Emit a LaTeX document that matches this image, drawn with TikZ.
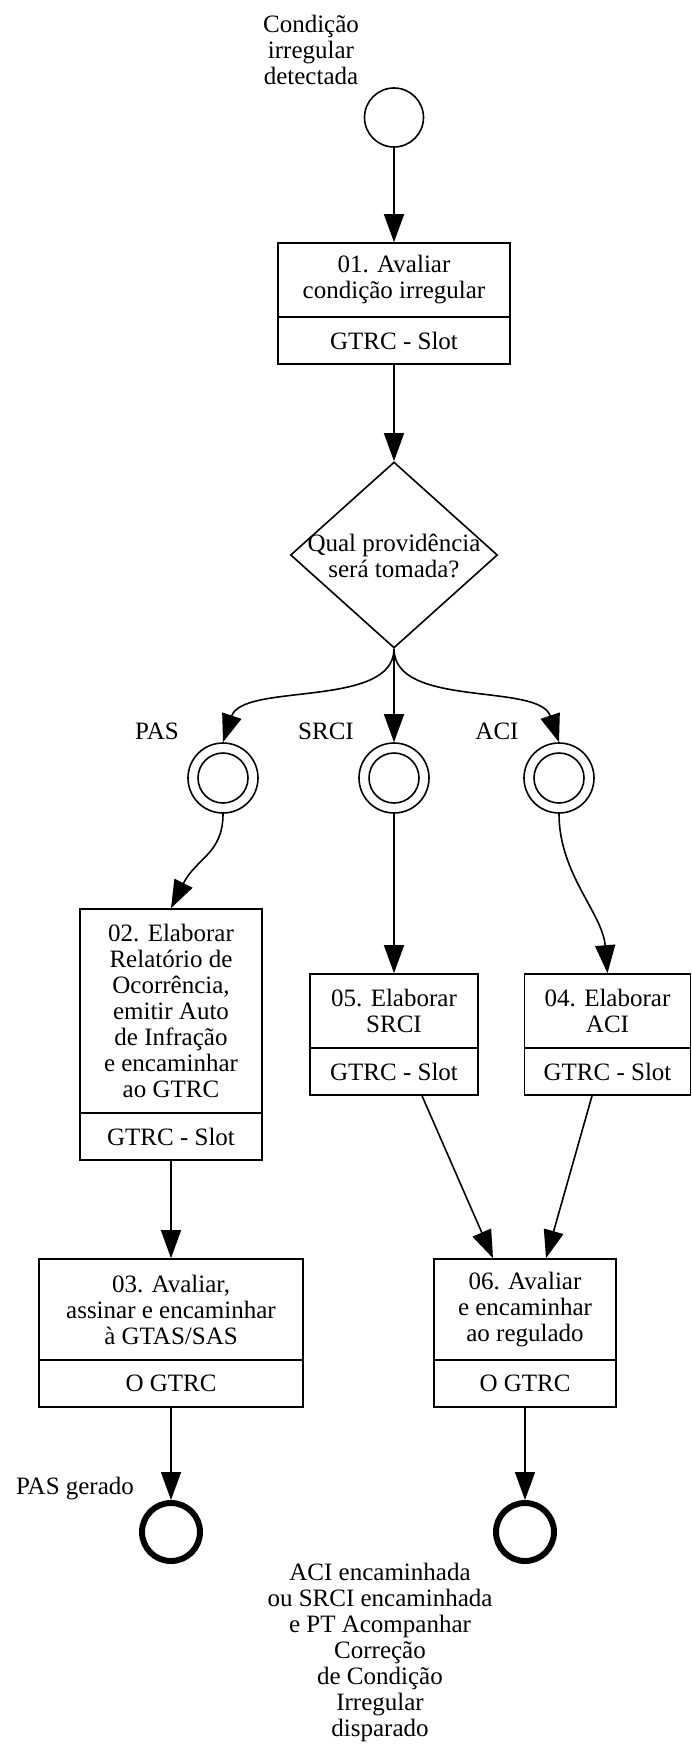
\documentclass[tikz,border=0pt]{standalone}
\usepackage{fontspec}
\setmainfont{Liberation Serif}
\usetikzlibrary{arrows.meta,shapes.geometric}

\begin{document}
\begin{tikzpicture}[x=1pt,y=-1pt,
  txt/.style={font=\fontsize{25}{26}\selectfont, align=center, inner sep=0pt},
  taskbox/.style={draw, line width=1.6pt, txt, minimum height=#1},
  taskbox/.default=74pt,
  rolebox/.style={draw, line width=1.6pt, txt, minimum height=47pt},
  startev/.style={circle, draw, line width=1.6pt, minimum size=59pt, inner sep=0pt},
  midev/.style={circle, draw, line width=1.6pt, minimum size=#1, inner sep=0pt},
  endev/.style={circle, draw, line width=6pt, minimum size=58pt, inner sep=0pt},
  decision/.style={diamond, draw, line width=1.6pt, inner sep=0pt, minimum width=207pt, minimum height=186pt},
  flow/.style={line width=1.6pt, -{Triangle[length=28pt,width=20pt]}}
]
% page
\fill[white] (0,0) rectangle (691,1744);
\useasboundingbox (0,0) rectangle (691,1744);

% start event
\node[txt] (lstart) at (311,49.5) {Condição\\irregular\\detectada};
\node[startev] (s) at (394,117.5) {};

% 01
\node[taskbox, minimum width=232pt] (b01) at (394,280) {01. Avaliar\\condição irregular};
\node[rolebox, minimum width=232pt] (r01) at (394,340.5) {GTRC - Slot};

% gateway
\node[decision] (d1) at (394,555) {};
\node[txt] (d1t) at (394,555.5) {Qual providência\\será tomada?};

% intermediate events
\node[midev=70pt] (gPAS) at (223,778) {};
\node[midev=50pt] (gPASi) at (223,778) {};
\node[midev=70pt] (gSRCI) at (394,778) {};
\node[midev=50pt] (gSRCIi) at (394,778) {};
\node[midev=70pt] (gACI) at (559,778) {};
\node[midev=50pt] (gACIi) at (559,778) {};
\node[txt] (lPAS) at (157,731) {PAS};
\node[txt] (lSRCI) at (326,731) {SRCI};
\node[txt] (lACI) at (497,731) {ACI};

% 02, 05, 04
\node[taskbox=204pt, minimum width=182pt] (b02) at (171,1011) {02. Elaborar\\Relatório de\\Ocorrência,\\emitir Auto\\de Infração\\e encaminhar\\ao GTRC};
\node[rolebox, minimum width=182pt] (r02) at (171,1136.5) {GTRC - Slot};

\node[taskbox, minimum width=168pt] (b05) at (394,1011) {05. Elaborar\\SRCI};
\node[rolebox, minimum width=168pt] (r05) at (394,1071.5) {GTRC - Slot};

\node[taskbox, minimum width=166pt] (b04) at (607.5,1011) {04. Elaborar\\ACI};
\node[rolebox, minimum width=166pt] (r04) at (607.5,1071.5) {GTRC - Slot};

% 03, 06
\node[taskbox=101pt, minimum width=264pt] (b03) at (171,1309.5) {03. Avaliar,\\assinar e encaminhar\\à GTAS/SAS};
\node[rolebox, minimum width=264pt] (r03) at (171,1383.5) {O GTRC};

\node[taskbox=101pt, minimum width=182pt] (b06) at (525,1309.5) {06. Avaliar\\e encaminhar\\ao regulado};
\node[rolebox, minimum width=182pt] (r06) at (525,1383.5) {O GTRC};

% end events
\node[endev] (e1) at (171,1532) {};
\node[txt] (le1) at (75,1489) {PAS gerado};
\node[endev] (e2) at (525,1532) {};
\node[txt] (le2) at (380,1652) {ACI encaminhada\\ou SRCI encaminhada\\e PT Acompanhar\\Correção\\de Condição\\Irregular\\disparado};

% connectors
\draw[flow] (s.south) -- (b01.north);
\draw[flow] (r01.south) -- (d1.north);
\draw[flow] (d1.south) .. controls +(0,60) and +(20,-60) .. (gPAS.north);
\draw[flow] (d1.south) -- (gSRCI.north);
\draw[flow] (d1.south) .. controls +(0,60) and +(-20,-60) .. (gACI.north);
\draw[flow] (gPAS.south) .. controls +(0,40) and +(25,-50) .. (b02.north);
\draw[flow] (gSRCI.south) -- (b05.north);
\draw[flow] (gACI.south) .. controls +(0,60) and +(-5,-60) .. (b04.north);
\draw[flow] (r02.south) -- (b03.north);
\draw[flow] ([xshift=28pt]r05.south) -- ([xshift=-32pt]b06.north);
\draw[flow] ([xshift=-15.5pt]r04.south) -- ([xshift=21pt]b06.north);
\draw[flow] (r03.south) -- (e1.north);
\draw[flow] (r06.south) -- (e2.north);
\end{tikzpicture}
\end{document}
